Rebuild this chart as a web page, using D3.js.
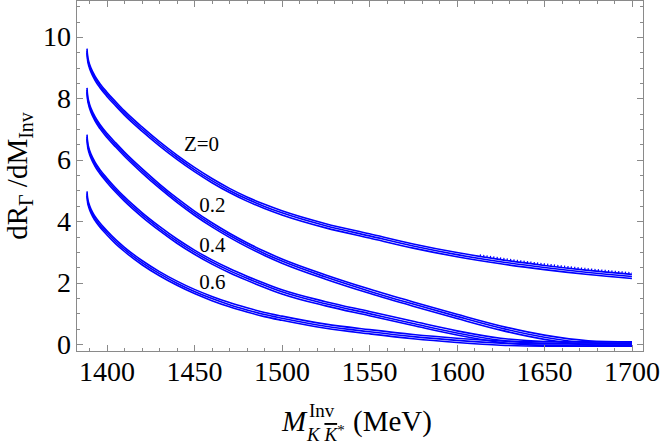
<!DOCTYPE html>
<html>
<head>
<meta charset="utf-8">
<script src="https://cdn.jsdelivr.net/npm/d3@7"></script>
<style>
  html, body { margin: 0; padding: 0; background: #fff; }
  svg { display: block; }
  text { font-family: "Liberation Serif", "Times New Roman", serif; fill: #000; }
</style>
</head>
<body>
<svg id="chart" width="664" height="445"></svg>
<script>
// ---- data ----
const massMeV = [1388.6, 1388.9, 1389.4, 1390, 1391, 1393, 1396, 1400, 1405, 1410, 1420, 1430, 1440, 1450, 1460, 1470, 1480, 1490, 1500, 1525, 1550, 1575, 1600, 1625, 1650, 1675, 1700];
const rateZ0  = [9.55, 9.32, 9.17, 9.05, 8.90, 8.67, 8.41, 8.13, 7.82, 7.52, 7.00, 6.52, 6.08, 5.68, 5.32, 5.00, 4.72, 4.48, 4.27, 3.85, 3.52, 3.19, 2.91, 2.68, 2.49, 2.33, 2.20];
const rateZ02 = [8.27, 8.03, 7.88, 7.75, 7.59, 7.35, 7.08, 6.79, 6.48, 6.18, 5.64, 5.14, 4.68, 4.26, 3.88, 3.54, 3.23, 2.95, 2.70, 2.18, 1.72, 1.30, 0.90, 0.52, 0.22, 0.04, 0.00];
const rateZ04 = [6.75, 6.52, 6.37, 6.25, 6.10, 5.87, 5.61, 5.33, 5.01, 4.72, 4.21, 3.76, 3.35, 2.99, 2.67, 2.39, 2.14, 1.91, 1.70, 1.31, 0.99, 0.67, 0.36, 0.12, 0.015, 0.00, 0.00];
const rateZ06 = [4.90, 4.69, 4.56, 4.45, 4.31, 4.10, 3.87, 3.62, 3.33, 3.08, 2.65, 2.29, 1.98, 1.71, 1.48, 1.28, 1.11, 0.96, 0.84, 0.58, 0.40, 0.24, 0.12, 0.03, 0.00, 0.00, 0.00];
const seriesList = [rateZ0, rateZ02, rateZ04, rateZ06];

const curveLabels = ["Z=0", "0.2", "0.4", "0.6"];
const labelAnchorX = [1444, 1452.7, 1452.7, 1452.7];
const labelAnchorY = [6.30, 4.30, 3.00, 1.78];

const xTickLabels = [1400, 1450, 1500, 1550, 1600, 1650, 1700];
const yTickLabels = [0, 2, 4, 6, 8, 10];

// ---- layout ----
const frame = { left: 76, right: 644, top: 0, bottom: 352 };
const svg = d3.select("#chart");

const x = d3.scaleLinear().domain([1382.3, 1706.9]).range([frame.left, frame.right]);
const y = d3.scaleLinear().domain([-0.26, 11.2]).range([frame.bottom, frame.top]);

const frameColor = "#8a8a8a";
const blue = "#0000ff";

const defs = svg.append("defs");
defs.append("clipPath").attr("id", "clip")
  .append("rect").attr("x", frame.left).attr("y", frame.top)
  .attr("width", frame.right - frame.left).attr("height", frame.bottom - frame.top);
defs.append("clipPath").attr("id", "clipTail")
  .append("rect").attr("x", x(1612)).attr("y", frame.top)
  .attr("width", x(1700.5) - x(1612)).attr("height", frame.bottom - frame.top);

const line = d3.line()
  .x((d, i) => x(massMeV[i]))
  .y(d => y(d))
  .curve(d3.curveMonotoneX);

const g = svg.append("g").attr("clip-path", "url(#clip)");
const strandOffsets = [-2.1, 0, 2.1];
seriesList.forEach(s => {
  strandOffsets.forEach(off => {
    g.append("path")
      .attr("d", line(s))
      .attr("transform", `translate(0,${off})`)
      .attr("fill", "none")
      .attr("stroke", blue)
      .attr("stroke-width", 1.6);
  });
});
// small jagged marks on the upper strand of the Z=0 band near its end
svg.append("g").attr("clip-path", "url(#clipTail)")
  .append("path")
  .attr("d", line(rateZ0))
  .attr("transform", "translate(0,-3.2)")
  .attr("fill", "none")
  .attr("stroke", blue)
  .attr("stroke-width", 2.2)
  .attr("stroke-dasharray", "1.2 2.2");

// frame
svg.append("rect")
  .attr("x", frame.left + 0.5).attr("y", frame.top + 0.5)
  .attr("width", frame.right - frame.left - 1).attr("height", frame.bottom - frame.top - 1)
  .attr("fill", "none").attr("stroke", frameColor).attr("stroke-width", 1);

// ticks
const ticks = svg.append("g").attr("stroke", frameColor).attr("stroke-width", 1);
d3.range(1390, 1701, 10).forEach(v => {
  const major = v % 50 === 0;
  const len = major ? 7 : 4;
  const px = Math.round(x(v)) + 0.5;
  ticks.append("line").attr("x1", px).attr("x2", px).attr("y1", frame.bottom).attr("y2", frame.bottom - len);
  ticks.append("line").attr("x1", px).attr("x2", px).attr("y1", frame.top).attr("y2", frame.top + len);
});
d3.range(0, 11.01, 0.5).forEach(v => {
  const major = Math.abs(v % 2) < 1e-9;
  const len = major ? 7 : 4;
  const py = Math.round(y(v)) + 0.5;
  ticks.append("line").attr("y1", py).attr("y2", py).attr("x1", frame.left).attr("x2", frame.left + len);
  ticks.append("line").attr("y1", py).attr("y2", py).attr("x1", frame.right).attr("x2", frame.right - len);
});

// tick labels
svg.append("g").selectAll("text").data(xTickLabels).join("text")
  .attr("x", d => x(d)).attr("y", 381)
  .attr("text-anchor", "middle").attr("font-size", 28)
  .text(d => d);
svg.append("g").selectAll("text").data(yTickLabels).join("text")
  .attr("x", 71).attr("y", d => y(d) + 9.5)
  .attr("text-anchor", "end").attr("font-size", 28)
  .text(d => d);

// curve labels
svg.append("g").selectAll("text").data(curveLabels).join("text")
  .attr("x", (d, i) => x(labelAnchorX[i]))
  .attr("y", (d, i) => y(labelAnchorY[i]))
  .attr("font-size", 21)
  .text(d => d);

// y axis title
const yt = svg.append("text")
  .attr("transform", "translate(27,176) rotate(-90)")
  .attr("text-anchor", "middle")
  .attr("font-size", 29);
yt.append("tspan").text("dR");
yt.append("tspan").attr("font-size", 20).attr("dy", 6).text("Γ");
yt.append("tspan").attr("dy", -6).text(" /dM");
yt.append("tspan").attr("font-size", 20).attr("dy", 6).text("Inv");

// x axis title
svg.append("text").attr("x", 282).attr("y", 431)
  .attr("font-size", 29).attr("font-style", "italic").text("M");
svg.append("text").attr("x", 309).attr("y", 417)
  .attr("font-size", 19).text("Inv");
const sub = svg.append("text").attr("x", 307).attr("y", 441)
  .attr("font-size", 19).attr("font-style", "italic");
sub.append("tspan").text("K ");
sub.append("tspan").style("text-decoration", "overline").text("K");
sub.append("tspan").attr("font-style", "normal").attr("font-size", 15).attr("dy", -6).text("*");
svg.append("text").attr("x", 353).attr("y", 431)
  .attr("font-size", 29).text("(MeV)");
</script>
</body>
</html>
